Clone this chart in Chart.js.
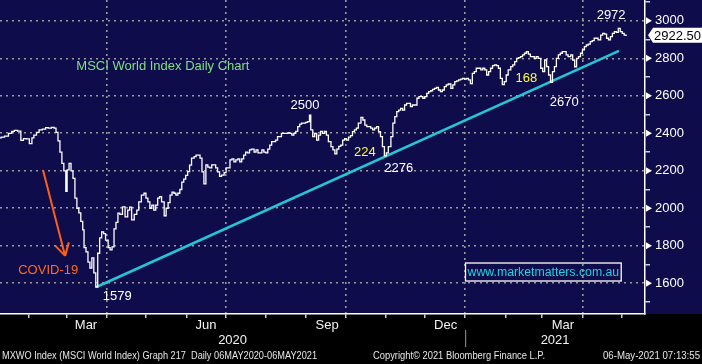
<!DOCTYPE html>
<html>
<head>
<meta charset="utf-8">
<script src="https://cdn.jsdelivr.net/npm/chart.js@4.4.0/dist/chart.umd.min.js"></script>
<style>
  html, body { margin: 0; padding: 0; background: #000; }
  #wrap { width: 702px; height: 364px; }
</style>
</head>
<body>
<div id="wrap"><canvas id="chart"></canvas></div>
<script>
// MSCI World Index, daily closes
const dates = [
  '2020-01-10','2020-01-12','2020-01-15','2020-01-18','2020-01-20','2020-01-22','2020-01-25','2020-01-27','2020-01-29','2020-01-31',
  '2020-02-03','2020-02-04','2020-02-06','2020-02-08','2020-02-10','2020-02-13','2020-02-15','2020-02-17','2020-02-20','2020-02-21',
  '2020-02-23','2020-02-24','2020-02-26','2020-02-27','2020-02-29','2020-03-01','2020-03-02','2020-03-04','2020-03-05','2020-03-07',
  '2020-03-08','2020-03-10','2020-03-11','2020-03-13','2020-03-14','2020-03-15','2020-03-17','2020-03-18','2020-03-20','2020-03-21',
  '2020-03-23','2020-03-24','2020-03-26','2020-03-27','2020-03-29','2020-03-30','2020-04-01','2020-04-03','2020-04-04','2020-04-06',
  '2020-04-07','2020-04-09','2020-04-10','2020-04-12','2020-04-14','2020-04-16','2020-04-18','2020-04-19','2020-04-21','2020-04-23',
  '2020-04-25','2020-04-26','2020-04-29','2020-04-30','2020-05-02','2020-05-03','2020-05-05','2020-05-06','2020-05-08','2020-05-09',
  '2020-05-11','2020-05-12','2020-05-14','2020-05-16','2020-05-17','2020-05-19','2020-05-20','2020-05-22','2020-05-23','2020-05-25',
  '2020-05-26','2020-05-28','2020-05-29','2020-05-31','2020-06-01','2020-06-03','2020-06-04','2020-06-06','2020-06-08','2020-06-09',
  '2020-06-11','2020-06-12','2020-06-14','2020-06-15','2020-06-17','2020-06-18','2020-06-20','2020-06-21','2020-06-23','2020-06-24',
  '2020-06-26','2020-06-27','2020-06-29','2020-07-01','2020-07-02','2020-07-04','2020-07-05','2020-07-07','2020-07-08','2020-07-10',
  '2020-07-11','2020-07-13','2020-07-14','2020-07-16','2020-07-17','2020-07-19','2020-07-20','2020-07-22','2020-07-24','2020-07-25',
  '2020-07-27','2020-07-28','2020-07-30','2020-07-31','2020-08-02','2020-08-03','2020-08-05','2020-08-06','2020-08-08','2020-08-09',
  '2020-08-11','2020-08-12','2020-08-14','2020-08-16','2020-08-17','2020-08-19','2020-08-20','2020-08-22','2020-08-23','2020-08-25',
  '2020-08-26','2020-08-28','2020-08-29','2020-08-31','2020-09-01','2020-09-03','2020-09-04','2020-09-05','2020-09-07','2020-09-08',
  '2020-09-10','2020-09-11','2020-09-13','2020-09-14','2020-09-16','2020-09-17','2020-09-19','2020-09-21','2020-09-22','2020-09-24',
  '2020-09-25','2020-09-27','2020-09-28','2020-09-30','2020-10-01','2020-10-03','2020-10-04','2020-10-06','2020-10-07','2020-10-09',
  '2020-10-10','2020-10-12','2020-10-14','2020-10-15','2020-10-17','2020-10-18','2020-10-20','2020-10-21','2020-10-23','2020-10-24',
  '2020-10-26','2020-10-27','2020-10-29','2020-10-30','2020-11-01','2020-11-02','2020-11-04','2020-11-06','2020-11-07','2020-11-09',
  '2020-11-10','2020-11-12','2020-11-13','2020-11-15','2020-11-16','2020-11-18','2020-11-19','2020-11-21','2020-11-22','2020-11-24',
  '2020-11-26','2020-11-27','2020-11-29','2020-11-30','2020-12-02','2020-12-03','2020-12-05','2020-12-06','2020-12-08','2020-12-09',
  '2020-12-11','2020-12-12','2020-12-14','2020-12-15','2020-12-17','2020-12-18','2020-12-20','2020-12-22','2020-12-23','2020-12-25',
  '2020-12-26','2020-12-28','2020-12-29','2020-12-31','2021-01-01','2021-01-03','2021-01-04','2021-01-06','2021-01-07','2021-01-09',
  '2021-01-10','2021-01-12','2021-01-14','2021-01-15','2021-01-17','2021-01-18','2021-01-20','2021-01-21','2021-01-23','2021-01-24',
  '2021-01-26','2021-01-27','2021-01-29','2021-01-30','2021-02-01','2021-02-02','2021-02-04','2021-02-06','2021-02-07','2021-02-09',
  '2021-02-10','2021-02-12','2021-02-13','2021-02-15','2021-02-16','2021-02-18','2021-02-19','2021-02-21','2021-02-22','2021-02-24',
  '2021-02-25','2021-02-27','2021-03-01','2021-03-02','2021-03-04','2021-03-05','2021-03-07','2021-03-08','2021-03-10','2021-03-11',
  '2021-03-13','2021-03-14','2021-03-16','2021-03-17','2021-03-19','2021-03-20','2021-03-22','2021-03-24','2021-03-25','2021-03-27',
  '2021-03-28','2021-03-30','2021-03-31','2021-04-02','2021-04-03','2021-04-05','2021-04-06','2021-04-08','2021-04-09','2021-04-11',
  '2021-04-12','2021-04-14','2021-04-16','2021-04-17','2021-04-19','2021-04-20','2021-04-22','2021-04-23','2021-04-25','2021-04-26',
  '2021-04-28','2021-04-29','2021-05-01','2021-05-02','2021-05-04','2021-05-05'
];
const closes = [
  2375,2380,2385,2400,2410,2415,2412,2362,2372,2370,
  2345,2375,2390,2405,2418,2422,2430,2428,2432,2428,
  2405,2360,2300,2240,2200,2090,2205,2240,2200,2160,
  2054,2000,1975,1930,1885,1790,1767,1713,1681,1735,
  1655,1580,1760,1842,1874,1865,1830,1790,1778,1794,
  1890,1925,1974,1967,2007,1954,1990,2006,1938,1967,
  1990,2034,2070,2080,2054,2034,2000,2017,1990,2017,
  2054,2062,2034,1960,2000,2030,2070,2086,2080,2070,
  2080,2100,2140,2155,2175,2195,2230,2268,2275,2284,
  2284,2268,2194,2130,2231,2220,2215,2231,2231,2215,
  2194,2170,2177,2190,2215,2215,2258,2263,2247,2258,
  2263,2247,2263,2284,2300,2295,2311,2316,2300,2311,
  2295,2295,2311,2300,2295,2316,2337,2356,2356,2364,
  2382,2382,2400,2400,2400,2404,2400,2390,2400,2410,
  2436,2449,2454,2454,2458,2462,2497,2418,2382,2400,
  2364,2390,2410,2400,2410,2390,2356,2329,2311,2290,
  2316,2330,2337,2364,2372,2364,2380,2388,2409,2418,
  2428,2454,2485,2471,2444,2436,2436,2428,2418,2428,
  2436,2409,2382,2329,2280,2295,2329,2382,2454,2489,
  2516,2524,2533,2524,2551,2560,2560,2542,2551,2551,
  2587,2596,2596,2587,2596,2613,2622,2627,2634,2640,
  2645,2631,2622,2631,2649,2658,2663,2640,2658,2676,
  2680,2685,2689,2693,2689,2693,2685,2665,2720,2729,
  2747,2747,2738,2747,2738,2711,2729,2747,2761,2765,
  2761,2747,2693,2660,2676,2711,2738,2756,2765,2782,
  2800,2804,2809,2818,2827,2836,2822,2809,2809,2800,
  2809,2800,2747,2729,2791,2756,2711,2672,2729,2756,
  2800,2818,2827,2836,2836,2818,2809,2818,2791,2755,
  2800,2809,2827,2845,2862,2871,2876,2889,2894,2907,
  2907,2898,2924,2933,2929,2907,2898,2916,2933,2942,
  2938,2960,2942,2933,2924,2922.5
];
const lastPrice = 2922.50;

// support trendline from the March 2020 low
const trendDates = ['2020-03-24', '2021-04-29'];
const trendValues = [1580, 2840];

const yMajor = [1600, 1800, 2000, 2200, 2400, 2600, 2800, 3000];
const monthLabels = ['Mar', 'Jun', 'Sep', 'Dec', 'Mar'];
const monthLabelDates = ['2020-03-16', '2020-06-16', '2020-09-17', '2020-12-17', '2021-03-17'];
const yearLabels = ['2020', '2021'];
const yearStart = '2021-01-01';
const axisStart = '2020-01-10';
const axisEnd = '2021-05-19';

// text notes placed on the chart (centre of each label)
const noteText = ['MSCI World Index Daily Chart', '2500', '224', '2276', '168', '2670', '2972', '1579', 'COVID-19'];
const noteDates = ['2020-05-14', '2020-08-31', '2020-10-16', '2020-11-11', '2021-02-17', '2021-03-18', '2021-04-23', '2020-04-09', '2020-02-16'];
const noteValues = [2759, 2546, 2300, 2215, 2690, 2567, 3031, 1532, 1671];
const noteColors = ['#7fe07f', '#ffffff', '#ffff33', '#ffffff', '#ffff33', '#ffffff', '#ffffff', '#ffffff', '#ff6a1f'];
const arrowFrom = ['2020-02-12', 2204];
const arrowTo = ['2020-02-29', 1746];
const website = ['www.marketmatters.com.au', '2021-03-02', 1660];

const footLeft = 'MXWO Index (MSCI World Index) Graph 217  Daily 06MAY2020-06MAY2021';
const footMid = 'Copyright\u00a9 2021 Bloomberg Finance L.P.';
const footRight = '06-May-2021 07:13:55';

function dayNum(s) {
  const [y, m, d] = s.split('-').map(Number);
  return (Date.UTC(y, m - 1, d) - Date.UTC(2020, 0, 1)) / 86400000;
}

// month starts for the x tick marks
const monthStarts = [];
for (let y = 2020, m = 1; y < 2021 || m <= 4; m++) {
  if (m > 11) { m = 0; y++; }
  monthStarts.push({ v: (Date.UTC(y, m, 1) - Date.UTC(2020, 0, 1)) / 86400000, q: m % 3 === 0 });
}

const NAVY = '#0f0c4b';
const GRID = '#9a9a9a';
const FONT = '"Liberation Sans", Arial, sans-serif';

const bloomberg = {
  id: 'bloomberg',
  beforeDraw(chart) {
    const { ctx, chartArea, width, height } = chart;
    ctx.save();
    ctx.fillStyle = '#000';
    ctx.fillRect(0, 0, width, height);
    ctx.fillStyle = NAVY;
    ctx.fillRect(0, 0, width, chartArea.bottom);
    ctx.restore();
  },
  afterDraw(chart) {
    const { ctx, chartArea } = chart;
    const xs = chart.scales.x, ys = chart.scales.y;
    const px = d => xs.getPixelForValue(dayNum(d));
    const py = v => ys.getPixelForValue(v);
    ctx.save();

    // triangles at the major y ticks
    ctx.fillStyle = '#fff';
    yMajor.forEach(v => {
      const y = py(v);
      ctx.beginPath();
      ctx.moveTo(chartArea.right + 1, y - 3.5);
      ctx.lineTo(chartArea.right + 7, y);
      ctx.lineTo(chartArea.right + 1, y + 3.5);
      ctx.closePath();
      ctx.fill();
    });

    // notes
    ctx.save();
    ctx.beginPath();
    ctx.rect(chartArea.left, chartArea.top, chartArea.right - chartArea.left, chartArea.bottom - chartArea.top);
    ctx.clip();
    ctx.font = '13px ' + FONT;
    ctx.textAlign = 'center';
    ctx.textBaseline = 'middle';
    noteText.forEach((t, i) => {
      ctx.fillStyle = noteColors[i];
      ctx.fillText(t, px(noteDates[i]), py(noteValues[i]));
    });

    // COVID arrow
    const x1 = px(arrowFrom[0]), y1 = py(arrowFrom[1]);
    const x2 = px(arrowTo[0]), y2 = py(arrowTo[1]);
    ctx.strokeStyle = '#ff5f1a';
    ctx.lineWidth = 2;
    ctx.beginPath();
    ctx.moveTo(x1, y1);
    ctx.lineTo(x2, y2);
    const a = Math.atan2(y1 - y2, x1 - x2);
    [-0.52, 0.52].forEach(da => {
      ctx.moveTo(x2, y2);
      ctx.lineTo(x2 + 14 * Math.cos(a + da), y2 + 14 * Math.sin(a + da));
    });
    ctx.stroke();

    // website box
    const wx = px(website[1]), wy = py(website[2]);
    ctx.font = '12.3px ' + FONT;
    const ww = ctx.measureText(website[0]).width;
    ctx.strokeStyle = '#fff';
    ctx.lineWidth = 1.3;
    ctx.strokeRect(wx - ww / 2 - 2, wy - 9, ww + 4, 18);
    ctx.fillStyle = '#27cfe0';
    ctx.fillText(website[0], wx, wy + 1);
    ctx.restore();

    // last price tag
    const ly = py(lastPrice);
    ctx.fillStyle = '#fff';
    ctx.beginPath();
    ctx.moveTo(chartArea.right + 3, ly);
    ctx.lineTo(chartArea.right + 8, ly - 7.5);
    ctx.lineTo(chart.width, ly - 7.5);
    ctx.lineTo(chart.width, ly + 7.5);
    ctx.lineTo(chartArea.right + 8, ly + 7.5);
    ctx.closePath();
    ctx.fill();
    ctx.fillStyle = '#000';
    ctx.font = '13px ' + FONT;
    ctx.textAlign = 'left';
    ctx.textBaseline = 'middle';
    ctx.fillText(lastPrice.toFixed(2), chartArea.right + 9, ly + 1);

    // month and year labels
    ctx.fillStyle = '#f2f2f2';
    ctx.textAlign = 'center';
    monthLabels.forEach((t, i) => ctx.fillText(t, px(monthLabelDates[i]), chartArea.bottom + 11));
    const jan = px(yearStart);
    ctx.fillText(yearLabels[0], (chartArea.left + jan) / 2, chartArea.bottom + 26);
    ctx.fillText(yearLabels[1], (jan + chartArea.right) / 2, chartArea.bottom + 26);
    ctx.strokeStyle = '#9a9a9a';
    ctx.lineWidth = 1;
    ctx.beginPath();
    ctx.moveTo(jan + 0.5, chartArea.bottom + 16);
    ctx.lineTo(jan + 0.5, chartArea.bottom + 33);
    ctx.stroke();

    // footer, squeezed like the terminal font
    ctx.font = '10px ' + FONT;
    ctx.textAlign = 'left';
    ctx.fillStyle = '#e6e6e6';
    const fit = (t, x, w) => {
      const m = ctx.measureText(t).width;
      ctx.save();
      ctx.translate(x, 356);
      ctx.scale(w / m, 1);
      ctx.fillText(t, 0, 0);
      ctx.restore();
    };
    fit(footLeft, 2, 315);
    fit(footMid, 373, 172);
    fit(footRight, 603, 97);
    ctx.restore();
  }
};

const isMajor = v => yMajor.includes(v);
const isQuarter = v => monthStarts.some(t => t.v === v && t.q);

new Chart(document.getElementById('chart'), {
  type: 'line',
  data: {
    datasets: [
      {
        data: dates.map((d, i) => ({ x: dayNum(d), y: closes[i] })),
        borderColor: '#ffffff',
        borderWidth: 1.3,
        pointRadius: 0,
        stepped: 'middle'
      },
      {
        data: trendDates.map((d, i) => ({ x: dayNum(d), y: trendValues[i] })),
        borderColor: '#22c6d6',
        borderWidth: 2.5,
        pointRadius: 0
      }
    ]
  },
  options: {
    responsive: true,
    maintainAspectRatio: false,
    animation: false,
    layout: { padding: 0 },
    plugins: { legend: { display: false }, tooltip: { enabled: false } },
    scales: {
      x: {
        type: 'linear',
        min: dayNum(axisStart),
        max: dayNum(axisEnd),
        afterBuildTicks: s => { s.ticks = monthStarts.map(t => ({ value: t.v })); },
        afterFit: s => { s.height = 50; s.paddingLeft = 0; s.paddingRight = 0; },
        ticks: { display: false },
        grid: {
          color: c => (c.tick && isQuarter(c.tick.value)) ? GRID : 'transparent',
          lineWidth: 1.6,
          tickColor: '#ffffff',
          tickLength: 4,
          tickWidth: 1.2,
          tickBorderDash: [6, 0]
        },
        border: { color: '#ffffff', width: 1.5, dash: [2, 4] }
      },
      y: {
        position: 'right',
        min: 1436,
        max: 3111,
        afterBuildTicks: s => {
          const t = [];
          for (let v = 1500; v <= 3100; v += 100) t.push({ value: v });
          s.ticks = t;
        },
        afterFit: s => { s.width = 57; s.paddingTop = 0; s.paddingBottom = 0; },
        ticks: {
          color: '#ffffff',
          font: { family: FONT, size: 13 },
          padding: 5,
          callback: v => isMajor(v) ? String(v) : ''
        },
        grid: {
          color: c => (c.tick && isMajor(c.tick.value)) ? GRID : 'transparent',
          lineWidth: 1.6,
          tickColor: c => (c.tick && isMajor(c.tick.value)) ? 'transparent' : '#ffffff',
          tickLength: 5,
          tickWidth: 1.2,
          tickBorderDash: [6, 0]
        },
        border: { color: '#ffffff', width: 1.5, dash: [2, 4] }
      }
    }
  },
  plugins: [bloomberg]
});
</script>
</body>
</html>
